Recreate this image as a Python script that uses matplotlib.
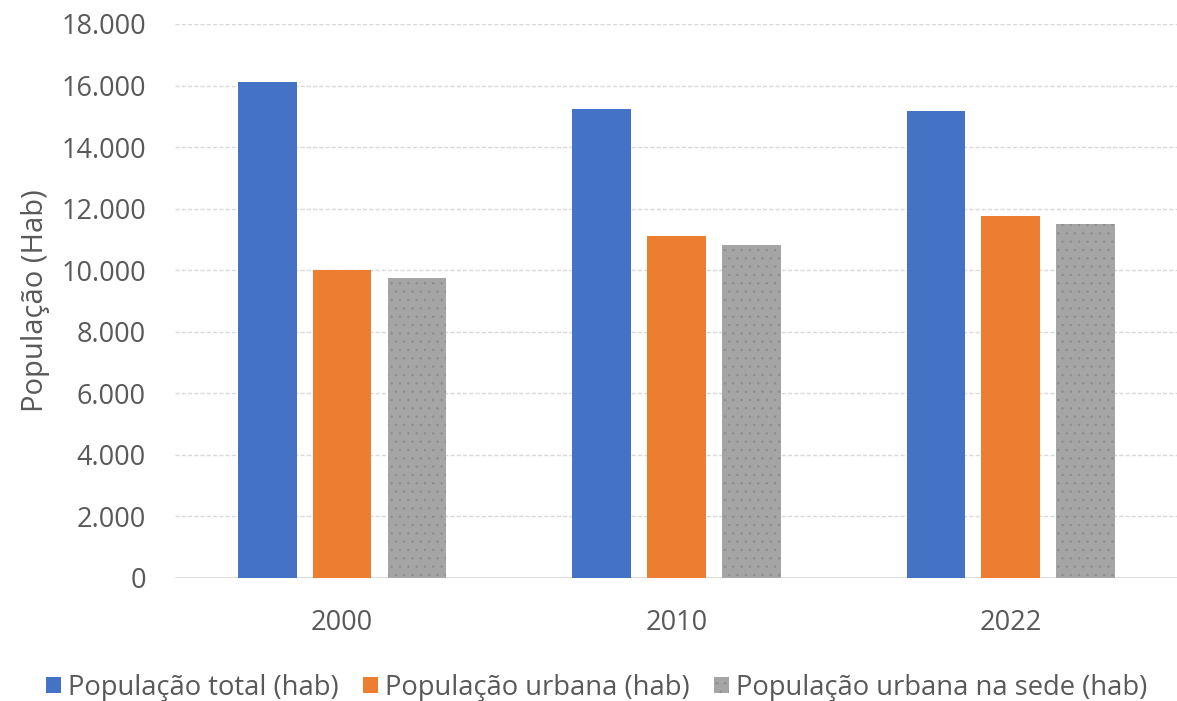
import matplotlib
matplotlib.use("Agg")
import matplotlib.pyplot as plt
import numpy as np
from matplotlib.ticker import FuncFormatter, MultipleLocator

years = ["2000", "2010", "2022"]
series_names = [
    "População total (hab)",
    "População urbana (hab)",
    "População urbana na sede (hab)",
]
pop_total = [16130, 15240, 15185]
pop_urbana = [10010, 11105, 11775]
pop_urbana_sede = [9740, 10820, 11505]

colors = ["#4472c4", "#ed7d31", "#a5a5a5"]
text_color = "#595959"

plt.rcParams["font.family"] = ["Open Sans", "DejaVu Sans"]
plt.rcParams["hatch.linewidth"] = 0.6

fig = plt.figure(figsize=(11.77, 7.01), dpi=100)
ax = fig.add_axes([0.1487, 0.1755, 0.852, 0.7903])

x = np.arange(len(years))
width = 0.175
offsets = [-0.224, 0.0, 0.224]
all_series = [pop_total, pop_urbana, pop_urbana_sede]

for i, (vals, name) in enumerate(zip(all_series, series_names)):
    if i == 2:
        # grey series has a fine dotted texture
        ax.bar(x + offsets[i], vals, width, color=colors[i], label=name,
               hatch="..", edgecolor="#8f8f8f", linewidth=0, zorder=3)
    else:
        ax.bar(x + offsets[i], vals, width, color=colors[i], label=name,
               linewidth=0, zorder=3)

ax.set_xlim(-0.5, 2.5)
ax.set_ylim(0, 18000)
ax.yaxis.set_major_locator(MultipleLocator(2000))
ax.yaxis.set_major_formatter(FuncFormatter(lambda v, p: f"{int(v):,}".replace(",", ".")))
ax.set_xticks(x)
ax.set_xticklabels(years)

ax.grid(axis="y", color="#d9d9d9", linestyle=(0, (3, 1.5)), linewidth=1.0, zorder=0)
ax.axhline(0, color="#d9d9d9", linewidth=1.2, zorder=2)
for s in ax.spines.values():
    s.set_visible(False)
ax.tick_params(axis="both", length=0, colors=text_color, labelsize=19.5)
ax.tick_params(axis="y", pad=21)
ax.tick_params(axis="x", pad=22)

ax.set_ylabel("População (Hab)", fontsize=21, color=text_color, labelpad=8)

fig.legend(loc="center", bbox_to_anchor=(0.507, 0.019), ncol=3, frameon=False,
           fontsize=19.7, handlelength=0.55, handleheight=0.55, handletextpad=0.25,
           columnspacing=0.9, labelcolor=text_color)

fig.savefig("out.png", dpi=100)
